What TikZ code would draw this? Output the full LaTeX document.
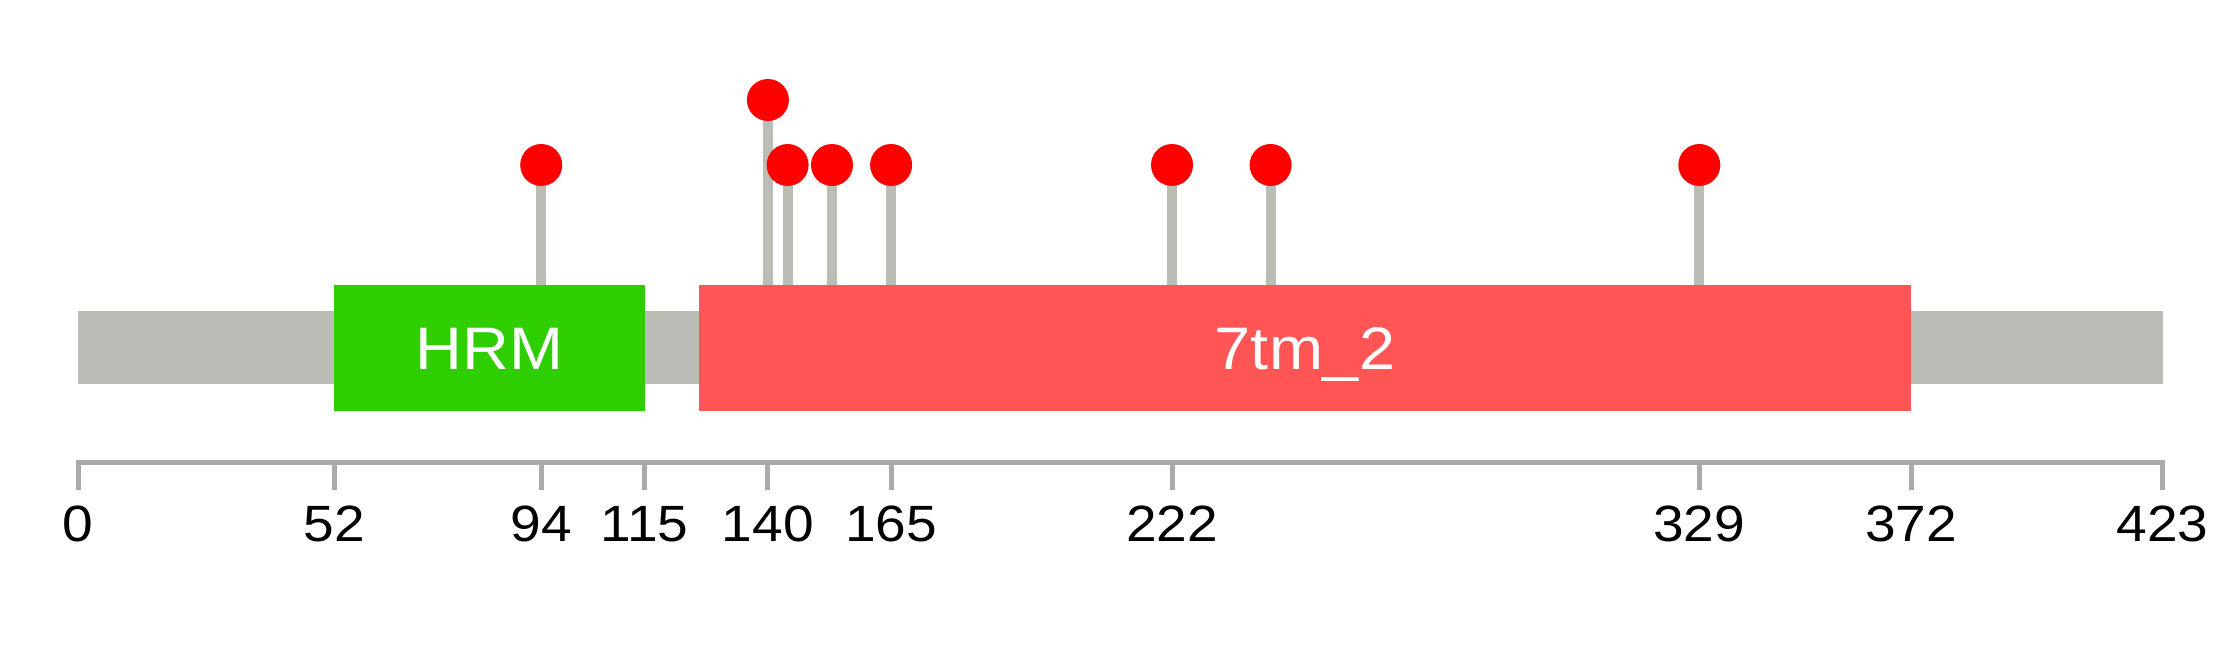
\documentclass[tikz,border=0pt]{standalone}
\usepackage{fontspec}
\setmainfont[FakeStretch=1.08]{Liberation Sans}
\definecolor{barc}{RGB}{186,189,182}
\definecolor{hrmc}{RGB}{46,206,0}
\definecolor{tmc}{RGB}{255,85,85}
\definecolor{mutc}{RGB}{255,0,0}
\definecolor{axisc}{RGB}{170,170,170}
\begin{document}
\begin{tikzpicture}[x=1pt,y=-1pt,
  stem/.style={draw=barc,line width=10pt},
  mutdot/.style={circle,fill=mutc,minimum size=42pt,inner sep=0pt},
  dom/.style={white,inner sep=0pt,anchor=base,font=\fontsize{60}{72}\selectfont},
  ticklab/.style={black,inner sep=0pt,anchor=base,font=\fontsize{51}{60}\selectfont},
  tickline/.style={draw=axisc,line width=5pt}]
\useasboundingbox (0,0) rectangle (2239,645);
% protein backbone and domains
\fill[barc] (78,311) rectangle (2162.5,384);
% stems
\foreach \x/\y/\n in {541.2/165/m94,767.9/100/m140,787.6/165/m144,832.0/165/m153,891.1/165/m165,1172.0/165/m222,1270.6/165/m242,1699.3/165/m329}{
  \coordinate (\n-base) at (\x,285);
  \coordinate (\n-top) at (\x,\y);
  \draw[stem] (\n-base) -- (\n-top);
}
\fill[hrmc] (334.3,285) rectangle (644.7,411);
\fill[tmc] (698.9,285) rectangle (1911.2,411);
% mutation dots
\foreach \n in {m94,m140,m144,m153,m165,m222,m242,m329}{
  \node[mutdot] (\n-dot) at (\n-top) {};
}
\node[dom] (hrm) at (489.5,369.3) {HRM};
\node[dom] (tm2) at (1305,369.3) {7tm\_2};
% axis
\coordinate (ax0) at (78,462.5);
\coordinate (ax1) at (2162.5,462.5);
\draw[tickline] (ax0) -- (ax1);
\foreach \x/\l in {78/0,334.3/52,541.2/94,644.7/115,767.9/140,891.1/165,1172.0/222,1699.3/329,1911.2/372,2162.5/423}{
  \coordinate (t\l-a) at (\x,460);
  \coordinate (t\l-b) at (\x,490);
  \draw[tickline] (t\l-a) -- (t\l-b);
  \node[ticklab] (lab\l) at (\x,541.5) {\l};
}
\end{tikzpicture}
\end{document}
